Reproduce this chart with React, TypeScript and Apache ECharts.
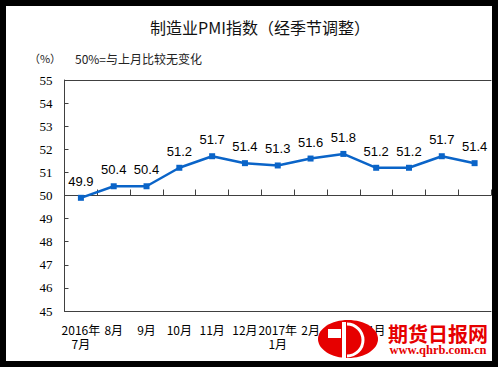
import React, { useEffect, useRef } from "react";
import * as echarts from "echarts";

const categories = ["2016年\n7月", "8月", "9月", "10月", "11月", "12月", "2017年\n1月", "2月", "3月", "4月", "5月", "6月", "7月"];
const pmiValues = [49.9, 50.4, 50.4, 51.2, 51.7, 51.4, 51.3, 51.6, 51.8, 51.2, 51.2, 51.7, 51.4];
const yMin = 45;
const yMax = 55;
const yInterval = 1;

const AXIS = "#404040";
const BLUE = "#0a64c8";
const RED = "#e60000";

export default function App() {
  const ref = useRef<HTMLDivElement>(null);
  useEffect(() => {
    if (!ref.current) return;
    const chart = echarts.init(ref.current, undefined, { renderer: "svg" });
    const gridH = 231;
    chart.setOption({
      animation: false,
      backgroundColor: "#ffffff",
      grid: { left: 58.5, right: 1, top: 74, bottom: 50, containLabel: false },
      xAxis: [
        {
          type: "category",
          data: categories,
          position: "bottom",
          boundaryGap: true,
          axisLine: { show: true, lineStyle: { color: AXIS, width: 1 } },
          axisTick: { show: false },
          axisLabel: {
            color: "#000",
            fontFamily: "Noto Sans CJK SC",
            fontSize: 12,
            lineHeight: 14,
            margin: 11,
            interval: 0,
          },
          splitLine: { show: false },
        },
        {
          type: "category",
          data: categories,
          position: "top",
          boundaryGap: true,
          axisLine: { show: true, lineStyle: { color: AXIS, width: 1 } },
          axisTick: { show: false },
          axisLabel: { show: false },
          splitLine: { show: false },
        },
        {
          type: "category",
          data: categories,
          position: "bottom",
          offset: -gridH / 2,
          boundaryGap: true,
          axisLine: { show: true, lineStyle: { color: AXIS, width: 1 } },
          axisTick: { show: true, inside: true, length: 6, interval: 0, lineStyle: { color: AXIS } },
          axisLabel: { show: false },
          splitLine: { show: false },
        },
      ],
      yAxis: {
        type: "value",
        min: yMin,
        max: yMax,
        interval: yInterval,
        axisLine: { show: true, lineStyle: { color: AXIS, width: 1 } },
        axisTick: { show: true, inside: true, length: 4, lineStyle: { color: AXIS } },
        axisLabel: {
          color: "#000",
          fontFamily: "Liberation Serif",
          fontSize: 13,
          margin: 12,
        },
        splitLine: { show: false },
      },
      series: [
        {
          type: "line",
          xAxisIndex: 0,
          data: pmiValues,
          symbol: "rect",
          symbolSize: 6,
          showAllSymbol: true,
          lineStyle: { color: BLUE, width: 2.5 },
          itemStyle: { color: BLUE },
          label: {
            show: true,
            position: "top",
            distance: 7,
            color: "#000",
            fontFamily: "Liberation Sans",
            fontSize: 13,
            formatter: (p: any) => Number(p.value).toFixed(1),
          },
          z: 3,
        },
      ],
      graphic: [
        {
          type: "text",
          x: 254,
          y: 21,
          z: 100,
          style: {
            text: "制造业PMI指数（经季节调整）",
            fontFamily: "Noto Sans CJK SC",
            fontSize: 16,
            fill: "#111",
            textAlign: "center",
            textVerticalAlign: "middle",
          },
        },
        {
          type: "text",
          x: 39,
          y: 52,
          z: 100,
          style: {
            text: "（%）",
            fontFamily: "Noto Sans CJK SC",
            fontSize: 11,
            fill: "#222",
            textAlign: "center",
            textVerticalAlign: "middle",
          },
        },
        {
          type: "text",
          x: 69,
          y: 52,
          z: 100,
          style: {
            text: "50%=与上月比较无变化",
            fontFamily: "Noto Sans CJK SC",
            fontSize: 12,
            fill: "#222",
            textAlign: "left",
            textVerticalAlign: "middle",
          },
        },
        {
          type: "rect",
          z: 99,
          shape: { x: 380, y: 315, width: 102, height: 37 },
          style: { fill: "#fff" },
        },
        {
          type: "ellipse",
          z: 100,
          shape: { cx: 342, cy: 333, rx: 30, ry: 19 },
          style: { fill: RED },
        },
        {
          type: "rect",
          z: 101,
          shape: { x: 322, y: 323, width: 13, height: 9 },
          style: { fill: "#fff" },
        },
        {
          type: "rect",
          z: 101,
          shape: { x: 336, y: 316, width: 4, height: 36 },
          style: { fill: "#fff" },
        },
        {
          type: "arc",
          z: 101,
          shape: { cx: 341, cy: 334, r: 16, startAngle: -Math.PI / 2, endAngle: Math.PI / 2, clockwise: true },
          style: { stroke: "#fff", lineWidth: 3, fill: "none" },
        },
        {
          type: "text",
          x: 432,
          y: 327,
          z: 100,
          style: {
            text: "期货日报网",
            fontFamily: "Noto Sans CJK SC",
            fontWeight: "bold",
            fontSize: 20,
            fill: RED,
            textAlign: "center",
            textVerticalAlign: "middle",
          },
        },
        {
          type: "text",
          x: 432,
          y: 344,
          z: 100,
          style: {
            text: "www.qhrb.com.cn",
            fontFamily: "Liberation Serif",
            fontWeight: "bold",
            fontSize: 12.5,
            fill: RED,
            textAlign: "center",
            textVerticalAlign: "middle",
          },
        },
      ],
    });
    return () => chart.dispose();
  }, []);

  return (
    <div style={{ position: "absolute", left: 0, top: 0, width: 498, height: 367, background: "#000" }}>
      <div
        ref={ref}
        style={{ position: "absolute", left: 6, top: 6, width: 486, height: 355, background: "#fff" }}
      />
    </div>
  );
}
